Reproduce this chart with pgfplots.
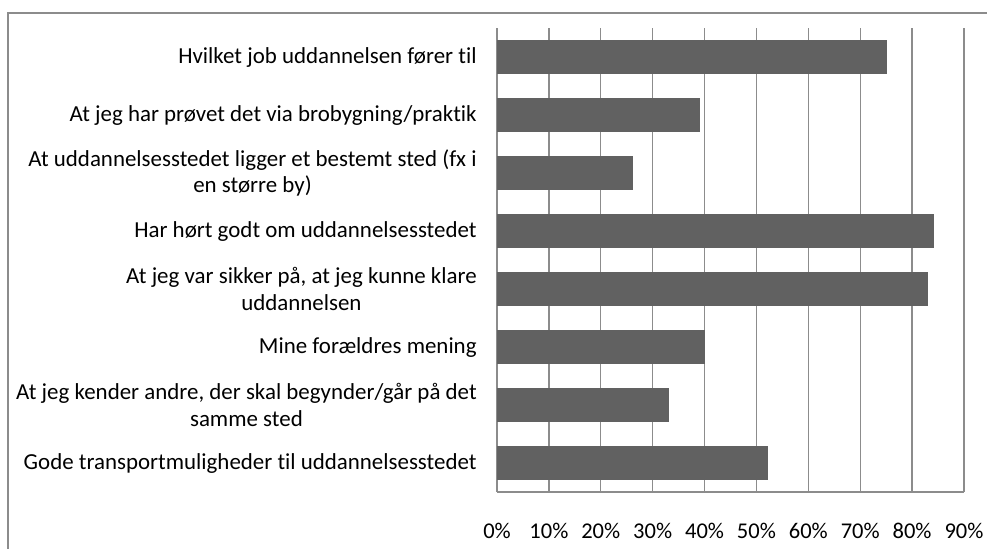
\documentclass[border=0pt]{standalone}
\usepackage{pgfplots}
\pgfplotsset{compat=1.18}
\usepackage{fontspec}
\setmainfont{Carlito}[Ligatures=CommonOff]
\definecolor{barc}{RGB}{97,97,97}
\definecolor{gridc}{RGB}{140,140,140}
\begin{document}
\begin{tikzpicture}[x=1bp,y=1bp]
\path[use as bounding box] (0,0) rectangle (493.5,274);
\clip (0,0) rectangle (493.5,274);
\draw[gridc, line width=0.7bp] (4,-20) rectangle (520,267.5);
\begin{axis}[
  at={(248.5bp,28bp)}, anchor=south west,
  scale only axis, width=233.5bp, height=232bp,
  xbar, bar width=16.5bp, bar shift=0pt,
  xmin=0, xmax=90, ymin=-0.5, ymax=7.5, y dir=reverse,
  axis x line*=bottom, axis y line*=left,
  axis line style={gridc, line width=0.7bp, -},
  xmajorgrids, grid style={gridc, line width=0.7bp},
  major tick length=0pt,
  xtick={0,10,...,90},
  xticklabels={0\%,10\%,20\%,30\%,40\%,50\%,60\%,70\%,80\%,90\%},
  xticklabel style={anchor=base, yshift=-23bp, inner sep=0pt, font=\fontsize{11.3}{13}\selectfont},
  ytick={0,...,7},
  yticklabels={
    {Hvilket job uddannelsen fører til},
    {At jeg har prøvet det via brobygning/praktik},
    {At uddannelsesstedet ligger et bestemt sted (fx i\\en større by)},
    {Har hørt godt om uddannelsesstedet},
    {At jeg var sikker på, at jeg kunne klare\\uddannelsen},
    {Mine forældres mening},
    {At jeg kender andre, der skal begynder/går på det\\samme sted},
    {Gode transportmuligheder til uddannelsesstedet}},
  yticklabel style={anchor=east, align=center, inner sep=0pt, xshift=-10bp, font=\fontsize{11.5}{13.5}\selectfont},
  ticklabel style={text=black},
]
\addplot[fill=barc, draw=barc, line width=0.3bp] coordinates {
  (75,0) (39,1) (26,2) (84,3) (83,4) (40,5) (33,6) (52,7)
};
\end{axis}
\end{tikzpicture}
\end{document}
